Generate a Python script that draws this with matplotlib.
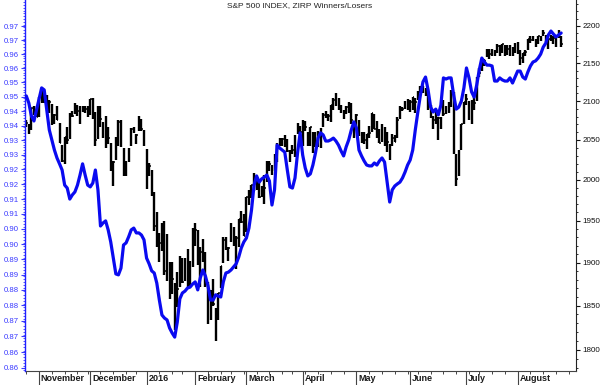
import numpy as np
import pandas as pd
import matplotlib
matplotlib.use("Agg")
import matplotlib.pyplot as plt
from matplotlib.ticker import FixedLocator, NullFormatter

plt.rcParams['font.family'] = ['Liberation Sans', 'DejaVu Sans']

title = "S&P 500 INDEX, ZIRP Winners/Losers"

# trading calendar
start_date = '2015-10-26'
axis_end_date = '2016-08-31'
holidays = ['2015-11-26', '2015-12-25', '2016-01-01', '2016-01-18',
            '2016-02-15', '2016-03-25', '2016-05-30', '2016-07-04']

# S&P 500 daily bars (high / low / close)
sp_high = [2075, 2070, 2091, 2093, 2094,
           2105, 2116, 2114, 2108, 2101, 2096, 2083, 2093, 2072, 2044, 2054, 2066, 2085, 2087, 2097, 2095, 2094, 2094, 2093, 2094,
           2103, 2104, 2086, 2094, 2093, 2073, 2081, 2067, 2046, 2023, 2054, 2076, 2076, 2040, 2023, 2040, 2065, 2067, 2058, 2081, 2077, 2063,
           2039, 2021, 2012, 1985, 1960, 1935, 1947, 1950, 1934, 1901, 1901, 1876, 1889, 1908, 1906, 1905, 1916, 1902, 1941,
           1947, 1939, 1918, 1928, 1913, 1877, 1868, 1881, 1847, 1865, 1896, 1930, 1931, 1918, 1947, 1942, 1932, 1952, 1962, 1958,
           1979, 1987, 1994, 2009, 2004, 1998, 1992, 2006, 2023, 2024, 2018, 2032, 2046, 2052, 2053, 2056, 2051, 2037, 2044, 2056, 2072, 2068,
           2075, 2074, 2060, 2067, 2060, 2060, 2062, 2065, 2084, 2087, 2083, 2095, 2104, 2111, 2104, 2095, 2088, 2094, 2099, 2097, 2074,
           2083, 2076, 2060, 2060, 2058, 2068, 2085, 2083, 2074, 2064, 2071, 2067, 2060, 2045, 2058, 2056, 2079, 2093, 2092, 2100, 2103,
           2101, 2105, 2104, 2113, 2120, 2120, 2117, 2109, 2095, 2081, 2087, 2079, 2079, 2101, 2094, 2099, 2114, 2112, 2032, 2037, 2071, 2099,
           2109, 2100, 2101, 2110, 2132, 2144, 2155, 2156, 2169, 2169, 2169, 2168, 2176, 2174, 2176, 2174, 2174, 2174, 2172, 2177,
           2178, 2168, 2164, 2168, 2183, 2186, 2187, 2183, 2186, 2186, 2194, 2188, 2183, 2188, 2186, 2185, 2194, 2187]
sp_low = [2066, 2058, 2063, 2082, 2079,
          2080, 2097, 2097, 2091, 2084, 2069, 2070, 2075, 2046, 2022, 2020, 2045, 2051, 2079, 2083, 2081, 2071, 2086, 2084, 2080,
          2082, 2077, 2043, 2051, 2066, 2052, 2040, 2045, 2011, 1993, 2025, 2042, 2041, 2005, 2005, 2022, 2042, 2059, 2045, 2061, 2062, 2043,
          1989, 2005, 1980, 1938, 1918, 1901, 1914, 1886, 1878, 1858, 1864, 1822, 1848, 1872, 1876, 1878, 1872, 1873, 1895,
          1920, 1897, 1872, 1901, 1872, 1829, 1834, 1850, 1810, 1834, 1871, 1900, 1915, 1902, 1924, 1920, 1892, 1918, 1947, 1932,
          1937, 1969, 1978, 1986, 1988, 1978, 1979, 1970, 1997, 2011, 2006, 2011, 2022, 2042, 2042, 2041, 2035, 2022, 2032, 2028, 2057, 2056,
          2043, 2062, 2042, 2043, 2034, 2041, 2041, 2040, 2066, 2078, 2074, 2073, 2088, 2094, 2089, 2084, 2077, 2083, 2084, 2070, 2053,
          2066, 2055, 2046, 2045, 2039, 2053, 2060, 2064, 2053, 2046, 2047, 2042, 2035, 2025, 2042, 2047, 2052, 2077, 2087, 2090, 2089,
          2086, 2089, 2085, 2101, 2110, 2111, 2107, 2089, 2078, 2064, 2070, 2050, 2064, 2081, 2083, 2084, 2092, 2032, 1992, 2005, 2037, 2071,
          2095, 2075, 2071, 2089, 2100, 2132, 2139, 2146, 2158, 2156, 2159, 2159, 2164, 2159, 2163, 2160, 2161, 2159, 2160, 2164,
          2162, 2148, 2150, 2159, 2168, 2177, 2179, 2171, 2176, 2180, 2186, 2178, 2169, 2180, 2175, 2172, 2184, 2171]
sp_close = [2071.2, 2065.9, 2090.4, 2089.4, 2079.4,
            2104.1, 2109.8, 2102.3, 2099.9, 2099.2, 2078.6, 2081.7, 2075.0, 2046.0, 2023.0, 2053.2, 2050.4, 2083.6, 2081.2, 2089.2, 2086.6, 2089.1, 2088.9, 2090.1, 2080.4,
            2102.6, 2079.5, 2049.6, 2091.7, 2077.1, 2063.6, 2047.6, 2052.2, 2012.4, 2021.9, 2043.4, 2073.1, 2041.9, 2005.6, 2021.2, 2039.0, 2064.3, 2061.0, 2056.5, 2078.4, 2063.4, 2043.9,
            2012.7, 2016.7, 1990.3, 1943.1, 1922.0, 1923.7, 1938.7, 1890.3, 1921.8, 1880.3, 1881.3, 1859.3, 1869.0, 1906.9, 1877.1, 1903.6, 1883.0, 1893.4, 1940.2,
            1939.4, 1903.0, 1912.5, 1915.5, 1880.1, 1853.4, 1852.2, 1851.9, 1829.1, 1864.8, 1895.6, 1926.8, 1917.8, 1917.8, 1945.5, 1921.3, 1929.8, 1951.7, 1948.1, 1932.2,
            1978.4, 1986.5, 1993.4, 2000.0, 2001.8, 1979.3, 1989.3, 1989.6, 2022.2, 2019.6, 2015.9, 2027.2, 2040.6, 2049.6, 2051.6, 2049.8, 2036.7, 2035.9, 2037.1, 2055.0, 2064.0, 2059.7,
            2072.8, 2066.1, 2045.2, 2066.7, 2041.9, 2047.6, 2042.0, 2061.7, 2082.4, 2082.8, 2080.7, 2094.3, 2100.8, 2102.4, 2091.5, 2091.6, 2087.8, 2091.7, 2095.2, 2075.8, 2065.3,
            2081.4, 2063.4, 2051.1, 2050.6, 2057.1, 2058.7, 2084.4, 2064.5, 2064.1, 2046.6, 2066.7, 2047.2, 2047.6, 2040.0, 2052.3, 2048.0, 2076.1, 2090.5, 2090.1, 2099.1, 2097.0,
            2099.3, 2105.3, 2099.1, 2109.4, 2112.1, 2119.1, 2115.5, 2096.1, 2079.1, 2075.3, 2071.5, 2078.0, 2071.2, 2083.3, 2088.9, 2085.5, 2113.3, 2037.4, 2000.5, 2036.1, 2070.8, 2098.9,
            2103.0, 2088.6, 2099.7, 2097.9, 2129.9, 2137.2, 2152.1, 2152.4, 2163.8, 2161.7, 2166.9, 2163.8, 2173.0, 2165.2, 2175.0, 2168.5, 2169.2, 2166.6, 2170.1, 2173.6,
            2170.8, 2157.0, 2163.8, 2164.3, 2182.9, 2180.9, 2181.7, 2175.5, 2185.8, 2184.1, 2190.2, 2178.2, 2182.2, 2187.0, 2183.9, 2182.6, 2186.9, 2175.4]

# ZIRP Winners/Losers ratio (daily)
zirp_ratio = [0.9478, 0.9453, 0.9408, 0.9391, 0.9429,
              0.9467, 0.9506, 0.9499, 0.9429, 0.9360, 0.9326, 0.9291, 0.9264, 0.9244, 0.9223, 0.9172, 0.9162, 0.9125, 0.9139, 0.9149, 0.9172, 0.9206, 0.9244, 0.9206, 0.9172,
              0.9166, 0.9179, 0.9223, 0.9156, 0.9035, 0.9045, 0.9052, 0.9022, 0.8982, 0.8929, 0.8877, 0.8874, 0.8896, 0.8972, 0.8979, 0.8999, 0.9022, 0.9028, 0.9012, 0.9012, 0.9005, 0.8989,
              0.8929, 0.8910, 0.8887, 0.8880, 0.8847, 0.8792, 0.8744, 0.8734, 0.8728, 0.8702, 0.8686, 0.8673, 0.8721, 0.8796, 0.8815, 0.8821, 0.8831, 0.8834, 0.8844,
              0.8851, 0.8825, 0.8864, 0.8890, 0.8870, 0.8838, 0.8792, 0.8792, 0.8809, 0.8805, 0.8802, 0.8851, 0.8880, 0.8883, 0.8890, 0.8900, 0.8910, 0.8932, 0.8962, 0.8982,
              0.8995, 0.9028, 0.9088, 0.9172, 0.9203, 0.9182, 0.9193, 0.9199, 0.9206, 0.9186, 0.9105, 0.9156, 0.9308, 0.9298, 0.9291, 0.9284, 0.9223, 0.9166, 0.9162, 0.9196, 0.9281, 0.9350,
              0.9274, 0.9230, 0.9203, 0.9210, 0.9240, 0.9281, 0.9332, 0.9350, 0.9343, 0.9322, 0.9322, 0.9326, 0.9332, 0.9322, 0.9308, 0.9288, 0.9271, 0.9302, 0.9326, 0.9360, 0.9388,
              0.9367, 0.9291, 0.9271, 0.9254, 0.9240, 0.9237, 0.9237, 0.9247, 0.9240, 0.9254, 0.9264, 0.9250, 0.9182, 0.9115, 0.9156, 0.9169, 0.9176, 0.9182, 0.9196, 0.9216, 0.9240,
              0.9257, 0.9291, 0.9360, 0.9422, 0.9481, 0.9527, 0.9544, 0.9499, 0.9439, 0.9422, 0.9432, 0.9412, 0.9446, 0.9541, 0.9537, 0.9541, 0.9541, 0.9481, 0.9432, 0.9439, 0.9460, 0.9506,
              0.9576, 0.9541, 0.9492, 0.9474, 0.9516, 0.9569, 0.9611, 0.9597, 0.9586, 0.9586, 0.9583, 0.9530, 0.9530, 0.9541, 0.9534, 0.9530, 0.9530, 0.9541, 0.9523, 0.9544,
              0.9565, 0.9565, 0.9544, 0.9537, 0.9562, 0.9583, 0.9597, 0.9601, 0.9611, 0.9625, 0.9650, 0.9664, 0.9693, 0.9707, 0.9696, 0.9686, 0.9693, 0.9700]

ratio_ticks = [0.8575, 0.8625, 0.8675, 0.8725, 0.8775, 0.8825, 0.8875, 0.8925,
               0.8975, 0.9025, 0.9075, 0.9125, 0.9175, 0.9225, 0.9275, 0.9325,
               0.9375, 0.9425, 0.9475, 0.9525, 0.9575, 0.9625, 0.9675, 0.9725]
ratio_tick_labels = ['0.86', '0.86', '0.87', '0.87', '0.88', '0.88', '0.89', '0.89',
                     '0.90', '0.90', '0.91', '0.91', '0.92', '0.92', '0.93', '0.93',
                     '0.94', '0.94', '0.95', '0.95', '0.96', '0.96', '0.97', '0.97']
sp_ticks = [1800, 1850, 1900, 1950, 2000, 2050, 2100, 2150, 2200]
sp_tick_labels = ['1800', '1850', '1900', '1950', '2000', '2050', '2100', '2150', '2200']
month_labels = ['November', 'December', '2016', 'February', 'March', 'April',
                'May', 'June', 'July', 'August']

# ---------------------------------------------------------------
days = pd.bdate_range(start_date, axis_end_date, freq='C', holidays=holidays)
n = len(sp_close)
x = np.arange(n)

months = np.array(days.month)
month_idx = [i for i in range(1, len(days)) if months[i] != months[i - 1]]
weeks = np.array(days.isocalendar().week)
week_idx = [0] + [i for i in range(1, len(days)) if weeks[i] != weeks[i - 1]]

W, H = 600, 385
fig = plt.figure(figsize=(W / 100, H / 100), dpi=100)
ax_sp = fig.add_axes([25 / W, 14 / H, 551 / W, 371 / H])
ax_bl = ax_sp.twinx()

# S&P bars
ax_sp.vlines(x, sp_low, sp_high, colors='black', linewidth=1.7, zorder=2)
ax_sp.hlines(sp_close, x, x + 0.55, colors='black', linewidth=1.1, zorder=2)
ax_sp.set_yscale('log')
ax_sp.set_ylim(1776.7, 2235.7)
ax_sp.yaxis.tick_right()
ax_sp.yaxis.set_major_locator(FixedLocator(sp_ticks))
ax_sp.set_yticklabels(sp_tick_labels)
ax_sp.yaxis.set_minor_locator(FixedLocator(np.arange(1780, 2240, 10)))
ax_sp.yaxis.set_minor_formatter(NullFormatter())
ax_sp.tick_params(axis='y', which='major', length=3, width=0.8, pad=1.5,
                  labelsize=5.8, colors='#111111')
ax_sp.tick_params(axis='y', which='minor', length=1.5, width=0.6, colors='#111111')

# ratio line
ax_bl.plot(x, zirp_ratio, color='#0a0af0', linewidth=2.3, solid_joinstyle='round',
           solid_capstyle='round', zorder=3)
ax_bl.set_yscale('log')
ax_bl.set_ylim(0.85655, 0.98185)
ax_bl.yaxis.tick_left()
ax_bl.yaxis.set_major_locator(FixedLocator(ratio_ticks))
ax_bl.set_yticklabels(ratio_tick_labels)
ax_bl.yaxis.set_minor_locator(FixedLocator(np.arange(0.857, 0.982, 0.001)))
ax_bl.yaxis.set_minor_formatter(NullFormatter())
ax_bl.tick_params(axis='y', which='major', length=3, width=0.8, pad=1.5,
                  labelsize=5.6, colors='#3a3aff')
ax_bl.tick_params(axis='y', which='minor', length=1.3, width=0.6, colors='#3a3aff')

# x axis
ax_sp.set_xlim(-0.5, len(days) - 0.2)
ax_sp.set_xticks(month_idx)
ax_sp.set_xticklabels([])
ax_sp.set_xticks(week_idx, minor=True)
ax_sp.tick_params(axis='x', which='major', length=10.5, width=0.8, colors='#444444')
ax_sp.tick_params(axis='x', which='minor', length=2.2, width=0.7, colors='#444444')
for mi, lab in zip(month_idx, month_labels):
    ax_sp.text(mi + 0.7, -0.021, lab, transform=ax_sp.get_xaxis_transform(),
               ha='left', va='center', fontsize=6.5, fontweight='bold', color='#1a1a1a')

for s in ['top', 'left']:
    ax_sp.spines[s].set_visible(False)
ax_sp.spines['right'].set_color('#222222')
ax_sp.spines['bottom'].set_color('#444444')
for s in ['top', 'right', 'bottom']:
    ax_bl.spines[s].set_visible(False)
ax_bl.spines['left'].set_color('#2020ff')
ax_bl.spines['left'].set_linewidth(1.0)

fig.text(0.5, 1 - 6 / H, title, ha='center', va='center', fontsize=6, color='#222222')

fig.savefig('out.png', dpi=100)
